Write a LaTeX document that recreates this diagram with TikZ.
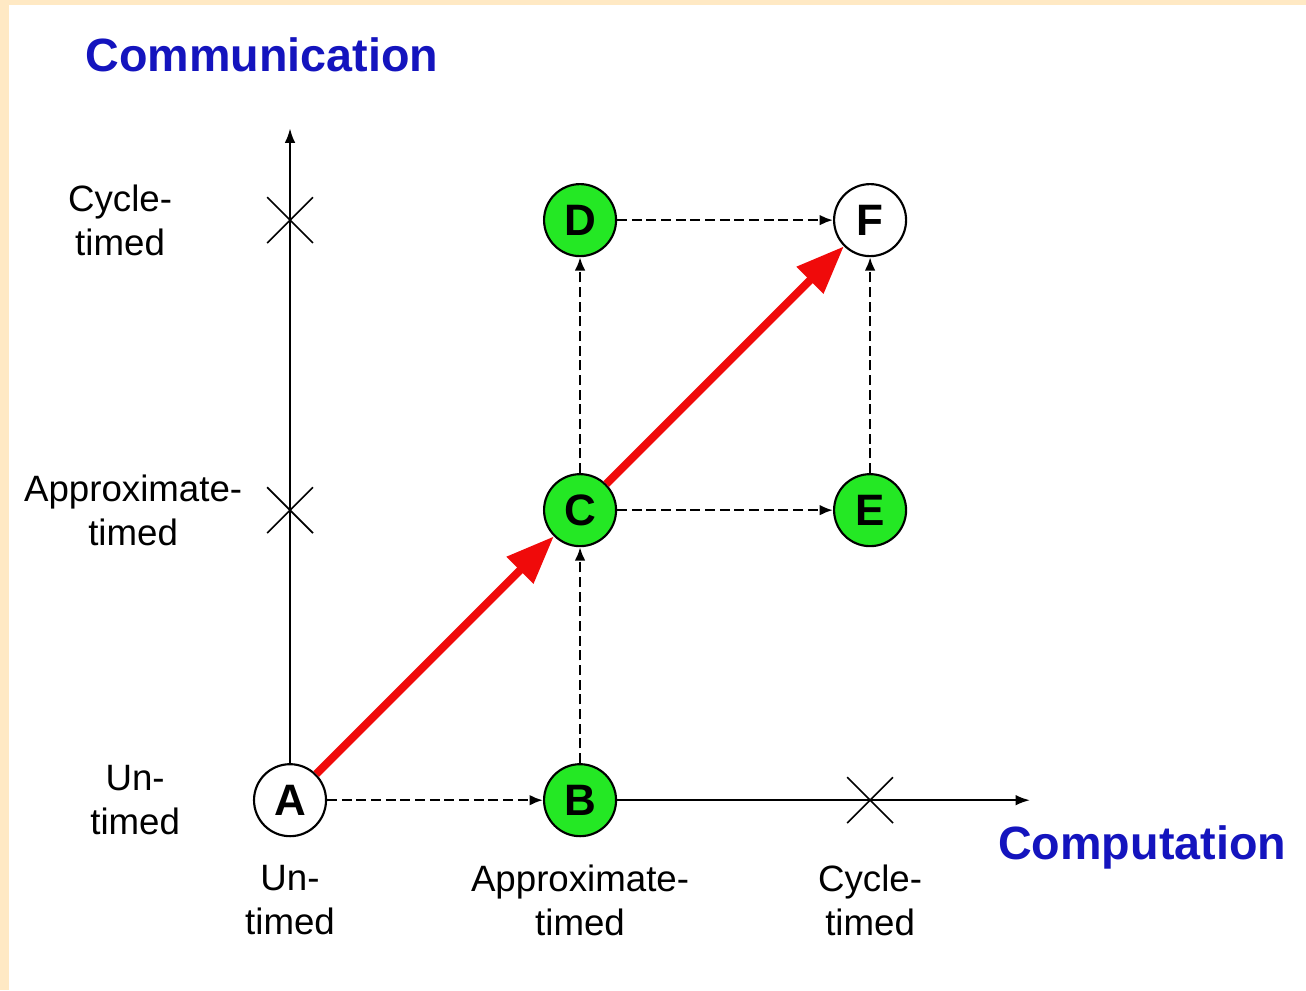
\documentclass[tikz,border=0pt]{standalone}
\usepackage{fontspec}
\setmainfont{Liberation Sans}
\usetikzlibrary{arrows.meta}
\definecolor{framebeige}{RGB}{255,233,196}
\definecolor{nodegreen}{RGB}{36,232,36}
\definecolor{axisblue}{RGB}{20,20,190}
\definecolor{pathred}{RGB}{240,10,10}
\tikzset{
    levelnode/.style={circle, draw=black, line width=1.6pt, minimum size=54pt, inner sep=0pt,
        font=\fontsize{33}{36}\selectfont\bfseries},
    done/.style={levelnode, fill=nodegreen},
    todo/.style={levelnode, fill=white},
    refine/.style={line width=1.8pt, dash pattern=on 7.5pt off 3.5pt, -{Latex[length=10pt,width=8pt]}},
    axisline/.style={line width=1.8pt, -{Latex[length=11pt,width=8pt]}},
    stepup/.style={pathred, line width=6pt, -{Triangle[length=36pt,width=27pt]}},
    ticklbl/.style={align=center, inner sep=0pt, font=\fontsize{27.5}{33}\selectfont},
    axistitle/.style={text=axisblue, inner sep=0pt, font=\fontsize{35}{40}\selectfont\bfseries}
}
\begin{document}
\begin{tikzpicture}[x=217.5pt, y=217.5pt]
        \fill[framebeige] (-1,-0.655) rectangle (3.503,2.759);
        \fill[white] (-0.969,-0.655) rectangle (3.503,2.741);
        \useasboundingbox (-1,-0.655) rectangle (3.503,2.759);

        \node[todo] (A) at (0,0) {A};
        \node[done] (B) at (1,0) {B};
        \node[done] (C) at (1,1) {C};
        \node[done] (D) at (1,2) {D};
        \node[done] (E) at (2,1) {E};
        \node[todo] (F) at (2,2) {F};

        \coordinate (ytop) at (0,2.317);
        \coordinate (xend) at (2.552,0);
        \draw[axisline] (A) -- (ytop);
        \draw[axisline] (B) -- (xend);
        \foreach \x / \y in {0/1,0/2,2/0}
        {
            \draw[line width=1.2pt] (\x-0.079,\y-0.079) -- (\x+0.079,\y+0.079);
            \draw[line width=1.2pt] (\x-0.079,\y+0.079) -- (\x+0.079,\y-0.079);
        }

        \draw[refine] (A) -- (B);
        \draw[refine] (B) -- (C);
        \draw[refine] (C) -- (D);
        \draw[refine] (C) -- (E);
        \draw[refine] (D) -- (F);
        \draw[refine] (E) -- (F);
        \draw[stepup] (A) -- (C);
        \draw[stepup] (C) -- (F);

        \foreach \pose / \lab in {0/{Un-\\timed},1/{Approximate-\\timed},2/{Cycle-\\timed}}
        {
            \node[ticklbl] (cmp\pose) at (\pose,-0.345) {\lab};
        }
        \foreach \pose / \lab / \off in {0/{Un-\\timed}/-0.534,1/{Approximate-\\timed}/-0.541,2/{Cycle-\\timed}/-0.586}
        {
            \node[ticklbl] (com\pose) at (\off,\pose) {\lab};
        }
        \node[axistitle] (comm) at (-0.097,2.569) {Communication};
        \node[axistitle] (comp) at (2.938,-0.162) {Computation};
    \end{tikzpicture}
\end{document}
